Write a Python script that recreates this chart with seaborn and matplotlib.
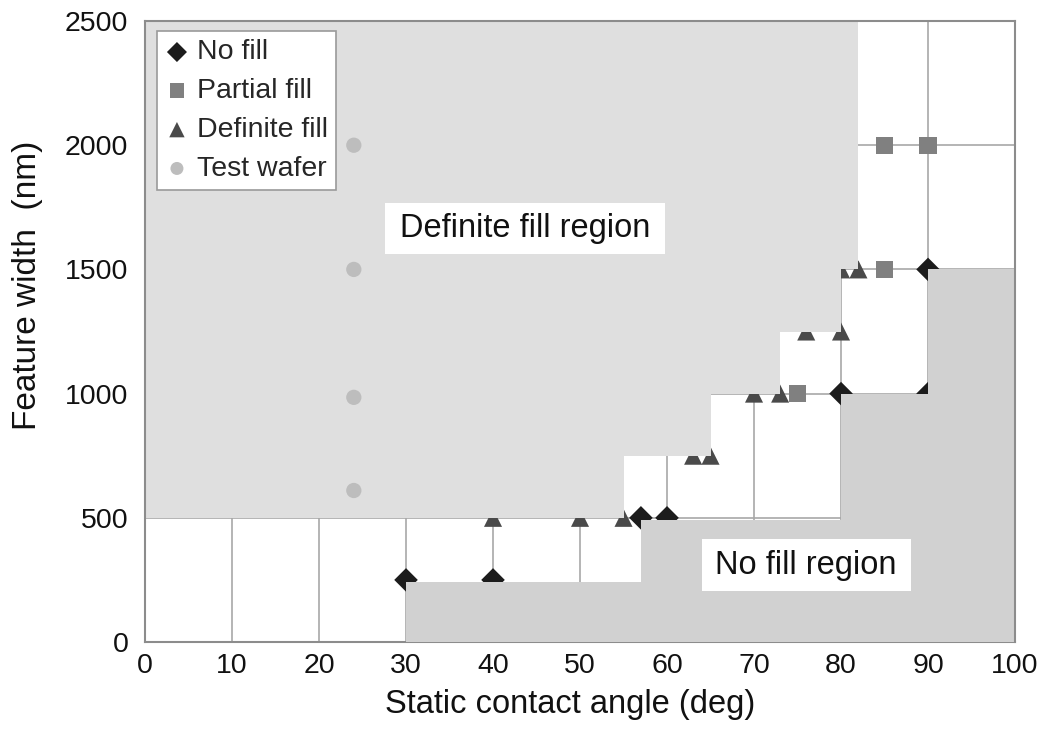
import matplotlib
matplotlib.use("Agg")
import matplotlib.pyplot as plt
from matplotlib.patches import Rectangle
import seaborn as sns

# marker data (contact angle in deg, feature width in nm)
NOFILL_X = [30, 40, 57, 60, 80, 90, 90]
NOFILL_Y = [250, 250, 500, 500, 1000, 1000, 1500]
PARTIAL_X = [75, 85, 85, 90]
PARTIAL_Y = [1000, 1500, 2000, 2000]
DEFINITE_X = [40, 50, 55, 63, 65, 70, 73, 76, 80, 80, 82]
DEFINITE_Y = [500, 500, 500, 750, 750, 1000, 1000, 1250, 1250, 1500, 1500]
WAFER_X = [24, 24, 24, 24]
WAFER_Y = [2000, 1500, 985, 610]

# region boundaries (staircases)
DEF_REGION_X = [0, 55, 55, 65, 65, 73, 73, 80, 80, 82, 82, 0]
DEF_REGION_Y = [500, 500, 750, 750, 1000, 1000, 1250, 1250, 1500, 1500, 2500, 2500]
NO_REGION_X = [30, 30, 57, 57, 80, 80, 90, 90, 100, 100]
NO_REGION_Y = [0, 240, 240, 490, 490, 1000, 1000, 1500, 1500, 0]

X_TICKS = list(range(0, 101, 10))
Y_TICKS = list(range(0, 2501, 500))

sns.set_theme(style="white")
plt.rcParams["font.family"] = ["Liberation Sans", "DejaVu Sans"]

fig = plt.figure(figsize=(10.5, 7.4), dpi=100)
ax = fig.add_axes([0.1381, 0.1324, 0.8286, 0.8392])

ax.set_xlim(0, 100)
ax.set_ylim(0, 2500)
ax.set_xticks(X_TICKS)
ax.set_yticks(Y_TICKS)
ax.grid(True, color="#a8a8a8", lw=1.2)
ax.set_axisbelow(True)

# series that sit under the shaded regions (as in the original)
sns.scatterplot(x=NOFILL_X, y=NOFILL_Y, marker="D", color="#1c1c1c", s=12 ** 2,
                edgecolor="none", label="No fill", zorder=2, ax=ax)
sns.scatterplot(x=PARTIAL_X, y=PARTIAL_Y, marker="s", color="#808080", s=12.5 ** 2,
                edgecolor="none", label="Partial fill", zorder=2, ax=ax)
sns.scatterplot(x=DEFINITE_X, y=DEFINITE_Y, marker="^", color="#4a4a4a", s=13 ** 2,
                edgecolor="none", label="Definite fill", zorder=2, ax=ax)

ax.fill(DEF_REGION_X, DEF_REGION_Y, color="#dfdfdf", lw=0, zorder=3)
ax.fill(NO_REGION_X, NO_REGION_Y, color="#d1d1d1", lw=0, zorder=3)

sns.scatterplot(x=WAFER_X, y=WAFER_Y, marker="o", color="#bdbdbd", s=11 ** 2,
                edgecolor="none", label="Test wafer", zorder=4, ax=ax)

# region labels on white boxes
ax.add_patch(Rectangle((27.6, 1562), 32.2, 205, facecolor="white", lw=0, zorder=5))
ax.text(43.7, 1665, "Definite fill region", ha="center", va="center",
        fontsize=23.5, color="#111111", zorder=6)
ax.add_patch(Rectangle((64.0, 205), 24.0, 210, facecolor="white", lw=0, zorder=5))
ax.text(76.0, 308, "No fill region", ha="center", va="center",
        fontsize=23.5, color="#111111", zorder=6)

leg = ax.legend(loc="upper left", bbox_to_anchor=(0.0138, 0.984), borderaxespad=0,
                frameon=True, fancybox=False, framealpha=1, edgecolor="#9a9a9a",
                fontsize=20.5, handlelength=0.8, handletextpad=0.3,
                borderpad=0.3, labelspacing=0.45, markerscale=0.85)
leg.get_frame().set_linewidth(1.2)
leg.set_zorder(7)

for side in ["left", "top", "right"]:
    ax.spines[side].set_color("#8c8c8c")
    ax.spines[side].set_linewidth(1.5)
    ax.spines[side].set_zorder(7)
ax.spines["bottom"].set_color("#8c8c8c")
ax.spines["bottom"].set_linewidth(1.5)
ax.spines["bottom"].set_zorder(2.5)

ax.tick_params(axis="both", length=0, labelsize=20.5, labelcolor="#111111")
ax.tick_params(axis="y", pad=12)
ax.tick_params(axis="x", pad=8)

ax.set_xlabel("Static contact angle (deg)", fontsize=23.5, color="#111111")
ax.set_ylabel("Feature width  (nm)", fontsize=24, color="#111111")
ax.xaxis.set_label_coords(0.4885, -0.1014)
ax.xaxis.label.set_va("center")
ax.yaxis.set_label_coords(-0.1356, 0.575)
ax.yaxis.label.set_va("center")
ax.yaxis.label.set_ha("center")

fig.savefig("out.png", dpi=100)
